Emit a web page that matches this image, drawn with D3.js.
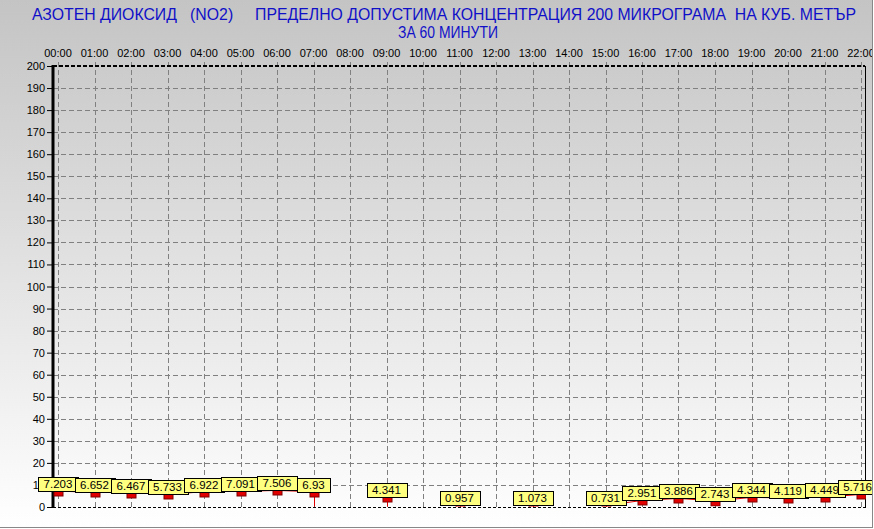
<!DOCTYPE html>
<html><head><meta charset="utf-8">
<script src="https://cdn.jsdelivr.net/npm/d3@7"></script>
<style>html,body{margin:0;padding:0;background:#fff}svg{display:block}text{font-family:"Liberation Sans",Arial,sans-serif}</style>
</head><body>
<svg id="c" width="874" height="529"></svg>
<script>
const hours = ["00:00","01:00","02:00","03:00","04:00","05:00","06:00","07:00","08:00","09:00","10:00","11:00","12:00","13:00","14:00","15:00","16:00","17:00","18:00","19:00","20:00","21:00","22:00"];
const values = [7.203,6.652,6.467,5.733,6.922,7.091,7.506,6.93,null,4.341,null,0.957,null,1.073,null,0.731,2.951,3.886,2.743,4.344,4.119,4.449,5.716];
const yTicks = d3.range(0,201,10);
const titleLine1 = "АЗОТЕН ДИОКСИД   (NO2)     ПРЕДЕЛНО ДОПУСТИМА КОНЦЕНТРАЦИЯ 200 МИКРОГРАМА  НА КУБ. МЕТЪР";
const titleLine2 = "ЗА 60 МИНУТИ";

const svg = d3.select("#c");
const W=874,H=529;
const L=53,R=865,T=66,B=507;
const defs = svg.append("defs");
const g = defs.append("linearGradient").attr("id","bg").attr("x1",0).attr("y1",0).attr("x2",0).attr("y2",1);
g.append("stop").attr("offset","0%").attr("stop-color","#c4c4c4");
g.append("stop").attr("offset","100%").attr("stop-color","#ffffff");
defs.append("clipPath").attr("id","plotclip").append("rect").attr("x",L).attr("y",T).attr("width",R-L+1).attr("height",B-T-0.5);
svg.append("rect").attr("width",W).attr("height",H).attr("fill","url(#bg)");

const x = d3.scaleLinear().domain([0,22]).range([58,861]);
const y = d3.scaleLinear().domain([0,200]).range([B,T]);

// title (horizontally condensed to match the original face)
function condensed(txt, x0, y0, width){
  const gt = svg.append("g");
  const t = gt.append("text").attr("x",0).attr("y",0).attr("fill","#1010c8").attr("font-size",17)
    .style("white-space","pre").text(txt);
  const nat = t.node().getComputedTextLength();
  gt.attr("transform",`translate(${x0},${y0}) scale(${width/nat},1)`);
}
condensed(titleLine1, 32, 20, 825);
condensed(titleLine2, 398, 38, 100);

// grid
const grid = svg.append("g").attr("stroke","#808080").attr("stroke-width",1).attr("stroke-dasharray","5,3");
grid.selectAll("line.h").data(yTicks.filter(d=>d>0&&d<200)).enter().append("line")
  .attr("x1",L).attr("x2",R).attr("y1",d=>Math.round(y(d))+0.5).attr("y2",d=>Math.round(y(d))+0.5);
grid.selectAll("line.v").data(hours).enter().append("line")
  .attr("x1",(d,i)=>Math.round(x(i))+0.5).attr("x2",(d,i)=>Math.round(x(i))+0.5).attr("y1",T-4).attr("y2",B);

// frame
svg.append("line").attr("x1",L).attr("x2",R).attr("y1",T).attr("y2",T).attr("stroke","#000").attr("stroke-width",2).attr("stroke-dasharray","4,2");
svg.append("line").attr("x1",L).attr("x2",R).attr("y1",B+0.5).attr("y2",B+0.5).attr("stroke","#000").attr("stroke-width",1).attr("stroke-dasharray","3,2");
svg.append("line").attr("x1",R+0.5).attr("x2",R+0.5).attr("y1",T).attr("y2",B+1).attr("stroke","#000").attr("stroke-width",1);

// y axis
const yAxis = d3.axisLeft(y).tickValues(yTicks).tickSize(5).tickPadding(2).tickFormat(d3.format("d"));
const ya = svg.append("g").attr("transform",`translate(${L-1},0)`).call(yAxis);
ya.select(".domain").remove();
ya.selectAll("line").attr("stroke","#000");
ya.selectAll("text").attr("font-size",11).attr("fill","#000").attr("font-family","Liberation Sans, Arial, sans-serif");
svg.append("line").attr("x1",L).attr("x2",L).attr("y1",T-1).attr("y2",B+1).attr("stroke","#000").attr("stroke-width",3);

// x axis labels (top)
const xa = svg.append("g");
xa.selectAll("text").data(hours).enter().append("text")
  .attr("x",(d,i)=>x(i)).attr("y",57).attr("text-anchor","middle").attr("font-size",11).attr("fill","#000").text(d=>d);

// series
const pts = values.map((v,i)=>({i,v})).filter(d=>d.v!==null);
const ser = svg.append("g").attr("clip-path","url(#plotclip)");
const line = d3.line().defined(d=>d.v!==null).x(d=>x(d.i)).y(d=>y(d.v));
ser.append("path").datum(values.map((v,i)=>({i,v}))).attr("d",line).attr("fill","none").attr("stroke","#e00000").attr("stroke-width",1);
const drops = pts.filter(d=>(d.i>0&&values[d.i-1]===null)||(d.i<values.length-1&&values[d.i+1]===null));
ser.selectAll("line.drop").data(drops).enter().append("line")
  .attr("x1",d=>Math.round(x(d.i))+0.5).attr("x2",d=>Math.round(x(d.i))+0.5).attr("y1",d=>y(d.v)).attr("y2",B)
  .attr("stroke","#e00000").attr("stroke-width",1);
ser.selectAll("rect.mk").data(pts).enter().append("rect")
  .attr("x",d=>Math.round(x(d.i))-4).attr("y",d=>Math.round(y(d.v))-4).attr("width",9).attr("height",9)
  .attr("fill","#e00000").attr("stroke","#800000").attr("stroke-width",1);

// labels
const lab = svg.append("g");
pts.forEach(d=>{
  const gg = lab.append("g");
  const yb = Math.round(y(d.v));
  const t = gg.append("text").attr("font-size",11.5).attr("text-anchor","middle").attr("fill","#000")
    .attr("y",yb-3).text(String(d.v));
  const w = t.node().getComputedTextLength();
  const cx = Math.min(x(d.i), W-2-w/2);
  t.attr("x",cx);
  gg.insert("rect","text").attr("x",Math.round(cx-w/2-5.5)+0.5).attr("y",yb-14+0.5)
    .attr("width",Math.round(w+11)).attr("height",14).attr("fill","#ffff80").attr("stroke","#000").attr("stroke-width",1);
});

// outer bevel
svg.append("rect").attr("x",W-2).attr("y",0).attr("width",2).attr("height",H).attr("fill","#fff");
svg.append("rect").attr("x",0).attr("y",H-2).attr("width",W).attr("height",2).attr("fill","#fff");
svg.append("line").attr("x1",W-1.5).attr("x2",W-1.5).attr("y1",0).attr("y2",H-1).attr("stroke","#888").attr("stroke-width",1);
svg.append("line").attr("x1",0).attr("x2",W-1).attr("y1",H-1.5).attr("y2",H-1.5).attr("stroke","#888").attr("stroke-width",1);
</script>
</body></html>
